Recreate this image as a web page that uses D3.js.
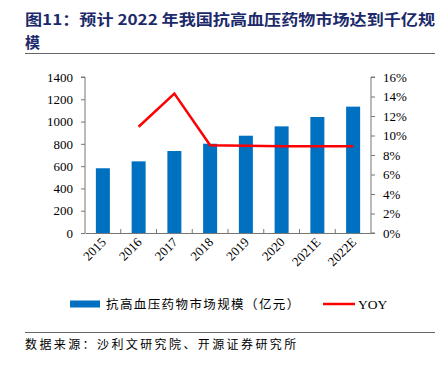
<!DOCTYPE html>
<html>
<head>
<meta charset="utf-8">
<script src="https://cdn.jsdelivr.net/npm/d3@7"></script>
<style>
  body { margin: 0; background: #fff; }
  svg { display: block; }
</style>
</head>
<body>
<div id="chart"></div>
<script>
// data
const years = ["2015", "2016", "2017", "2018", "2019", "2020", "2021E", "2022E"];
const marketSize = [581, 643, 736, 801, 873, 957, 1041, 1134];   // 亿元
const yoy = [null, 10.9, 14.3, 9.0, 8.95, 8.9, 8.9, 8.9];         // %
const leftTicks = [0, 200, 400, 600, 800, 1000, 1200, 1400];
const rightTicks = [0, 2, 4, 6, 8, 10, 12, 14, 16];

const W = 445, H = 366;
const plot = { left: 85, right: 371, top: 77, bottom: 233 };
const serif = "'Liberation Serif', 'Times New Roman', serif";
const cjk = "'Noto Sans CJK SC', sans-serif";

const svg = d3.select("#chart").append("svg")
    .attr("width", W)
    .attr("height", H);

// title
const title = svg.append("g").attr("fill", "#1c2a6b").attr("font-weight", "bold");
title.append("text")
    .attr("x", 25).attr("y", 25)
    .attr("font-family", cjk).attr("font-size", 15)
    .attr("textLength", 410).attr("lengthAdjust", "spacingAndGlyphs")
    .text("图11：预计 2022 年我国抗高血压药物市场达到千亿规");
title.append("text")
    .attr("x", 25).attr("y", 48)
    .attr("font-family", cjk).attr("font-size", 15)
    .text("模");

svg.append("line")
    .attr("x1", 25).attr("x2", 435).attr("y1", 53.5).attr("y2", 53.5)
    .attr("stroke", "#666").attr("stroke-width", 1);

// scales
const x = d3.scaleBand().domain(years).range([plot.left, plot.right]);
const yL = d3.scaleLinear().domain([0, 1400]).range([plot.bottom, plot.top]);
const yR = d3.scaleLinear().domain([0, 16]).range([plot.bottom, plot.top]);

// bars
svg.append("g").selectAll("rect")
    .data(marketSize)
    .enter().append("rect")
    .attr("x", (d, i) => x(years[i]) + x.bandwidth() / 2 - 7)
    .attr("width", 14)
    .attr("y", d => yL(d))
    .attr("height", d => plot.bottom - yL(d))
    .attr("fill", "#0070c0");

// yoy line
const line = d3.line()
    .defined(d => d != null)
    .x((d, i) => x(years[i]) + x.bandwidth() / 2)
    .y(d => yR(d));
svg.append("path")
    .datum(yoy)
    .attr("d", line)
    .attr("fill", "none")
    .attr("stroke", "#ff0000")
    .attr("stroke-width", 2.5);

// axes
const leftAxis = svg.append("g")
    .attr("transform", `translate(${plot.left},0)`)
    .call(d3.axisLeft(yL).tickValues(leftTicks).tickSize(4).tickPadding(8).tickSizeOuter(0)
        .tickFormat(d3.format("d")));
const rightAxis = svg.append("g")
    .attr("transform", `translate(${plot.right},0)`)
    .call(d3.axisRight(yR).tickValues(rightTicks).tickSize(4).tickPadding(8).tickSizeOuter(0)
        .tickFormat(d => d + "%"));
const bottomAxis = svg.append("g")
    .attr("transform", `translate(0,${plot.bottom})`)
    .call(d3.axisBottom(x).tickSize(0).tickPadding(0));

// category separator ticks on the x axis
svg.append("g").selectAll("line")
    .data(years.slice(1))
    .enter().append("line")
    .attr("x1", d => x(d)).attr("x2", d => x(d))
    .attr("y1", plot.bottom).attr("y2", plot.bottom - 4)
    .attr("stroke", "#777");

[leftAxis, rightAxis, bottomAxis].forEach(a => {
    a.selectAll("path.domain").attr("stroke", "#777");
    a.selectAll(".tick line").attr("stroke", "#777");
    a.selectAll("text")
        .attr("font-family", serif)
        .attr("font-size", 13)
        .attr("fill", "#000");
});
rightAxis.selectAll("path.domain").attr("d", `M4,${plot.top}H0V${plot.bottom}H4`);
leftAxis.selectAll("path.domain").attr("d", `M-4,${plot.top}H0V${plot.bottom}`);

bottomAxis.selectAll("text")
    .attr("text-anchor", "end")
    .attr("dy", 0)
    .attr("transform", "translate(4,10) rotate(-45)");

// legend
const legend = svg.append("g");
legend.append("rect")
    .attr("x", 70).attr("y", 300.5).attr("width", 30).attr("height", 7)
    .attr("fill", "#0070c0");
legend.append("text")
    .attr("x", 106).attr("y", 309)
    .attr("font-family", cjk).attr("font-size", 12.5)
    .attr("letter-spacing", 1.4)
    .text("抗高血压药物市场规模（亿元）");
legend.append("line")
    .attr("x1", 323).attr("x2", 355).attr("y1", 304).attr("y2", 304)
    .attr("stroke", "#ff0000").attr("stroke-width", 2.5);
legend.append("text")
    .attr("x", 358).attr("y", 309)
    .attr("font-family", serif).attr("font-size", 13.5)
    .text("YOY");

svg.append("line")
    .attr("x1", 25).attr("x2", 435).attr("y1", 332.5).attr("y2", 332.5)
    .attr("stroke", "#666").attr("stroke-width", 1);

svg.append("text")
    .attr("x", 25).attr("y", 349)
    .attr("font-family", cjk).attr("font-size", 12)
    .attr("letter-spacing", 2.4)
    .text("数据来源：沙利文研究院、开源证券研究所");
</script>
</body>
</html>
